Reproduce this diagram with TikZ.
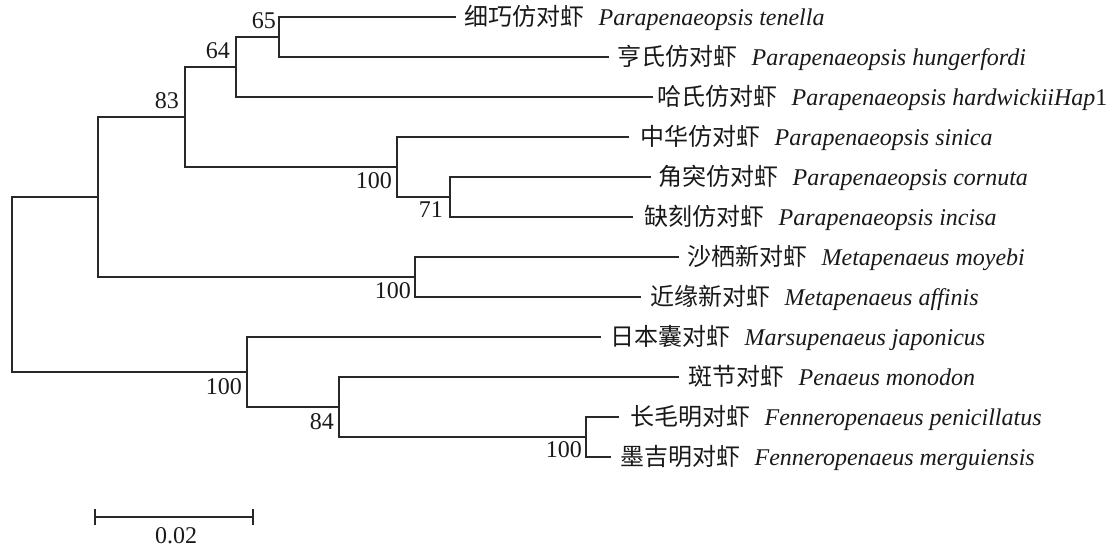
\documentclass[tikz,border=0pt]{standalone}
\usepackage{fontspec}
\setmainfont{Liberation Serif}
\newfontfamily\cjkf{Noto Sans CJK SC}
\newcommand\taxtext[2]{{\cjkf #1}\hspace{0.6em}\textit{#2}}
\begin{document}
\begin{tikzpicture}[x=1pt,y=-1pt,
  br/.style={draw={rgb,255:red,40;green,40;blue,40},line width=1.3pt,line cap=rect},
  taxon/.style={anchor=base west,inner sep=0pt,yshift=-8.5pt,font=\fontsize{24}{28}\selectfont,text={rgb,255:red,25;green,25;blue,25}},
  bs/.style={anchor=east,inner sep=0pt,font=\fontsize{24}{28}\selectfont,text={rgb,255:red,25;green,25;blue,25}}]
\useasboundingbox (0,0) rectangle (1111,548);
% tips
\coordinate (t1) at (455,17);
\coordinate (t2) at (608,57);
\coordinate (t3) at (652,97);
\coordinate (t4) at (628,137);
\coordinate (t5) at (650,177);
\coordinate (t6) at (632,217);
\coordinate (t7) at (678,257);
\coordinate (t8) at (640,297);
\coordinate (t9) at (600,337);
\coordinate (t10) at (678,377);
\coordinate (t11) at (618,417);
\coordinate (t12) at (610,457);
% internal nodes
\coordinate (n65) at (279,37);
\coordinate (n64) at (236,67);
\coordinate (n83) at (185,117);
\coordinate (n100a) at (397,167);
\coordinate (n71) at (450,197);
\coordinate (nup) at (98,197);
\coordinate (nmeta) at (415,277);
\coordinate (root) at (12,284.5);
\coordinate (nlow) at (247,372);
\coordinate (n84) at (339,407);
\coordinate (nfen) at (586,437);
% branches
\draw[br] (n65) |- (t1);
\draw[br] (n65) |- (t2);
\draw[br] (n64) |- (n65);
\draw[br] (n64) |- (t3);
\draw[br] (n83) |- (n64);
\draw[br] (n83) |- (n100a);
\draw[br] (n100a) |- (t4);
\draw[br] (n100a) |- (n71);
\draw[br] (n71) |- (t5);
\draw[br] (n71) |- (t6);
\draw[br] (nup) |- (n83);
\draw[br] (nup) |- (nmeta);
\draw[br] (nmeta) |- (t7);
\draw[br] (nmeta) |- (t8);
\draw[br] (root) |- (nup);
\draw[br] (root) |- (nlow);
\draw[br] (nlow) |- (t9);
\draw[br] (nlow) |- (n84);
\draw[br] (n84) |- (t10);
\draw[br] (n84) |- (nfen);
\draw[br] (nfen) |- (t11);
\draw[br] (nfen) |- (t12);
% taxon labels
\node[taxon] (l1) at ([xshift=9pt]t1) {\taxtext{细巧仿对虾}{Parapenaeopsis tenella}};
\node[taxon] (l2) at ([xshift=9pt]t2) {\taxtext{亨氏仿对虾}{Parapenaeopsis hungerfordi}};
\node[taxon] (l3) at ([xshift=5pt]t3) {\taxtext{哈氏仿对虾}{Parapenaeopsis hardwickiiHap}1};
\node[taxon] (l4) at ([xshift=12pt]t4) {\taxtext{中华仿对虾}{Parapenaeopsis sinica}};
\node[taxon] (l5) at ([xshift=8pt]t5) {\taxtext{角突仿对虾}{Parapenaeopsis cornuta}};
\node[taxon] (l6) at ([xshift=12pt]t6) {\taxtext{缺刻仿对虾}{Parapenaeopsis incisa}};
\node[taxon] (l7) at ([xshift=9pt]t7) {\taxtext{沙栖新对虾}{Metapenaeus moyebi}};
\node[taxon] (l8) at ([xshift=10pt]t8) {\taxtext{近缘新对虾}{Metapenaeus affinis}};
\node[taxon] (l9) at ([xshift=10pt]t9) {\taxtext{日本囊对虾}{Marsupenaeus japonicus}};
\node[taxon] (l10) at ([xshift=10pt]t10) {\taxtext{斑节对虾}{Penaeus monodon}};
\node[taxon] (l11) at ([xshift=12pt]t11) {\taxtext{长毛明对虾}{Fenneropenaeus penicillatus}};
\node[taxon] (l12) at ([xshift=10pt]t12) {\taxtext{墨吉明对虾}{Fenneropenaeus merguiensis}};
% bootstrap values
\node[bs] (b65) at ([shift={(-3,-16)}]n65) {65};
\node[bs] (b64) at ([shift={(-6,-16)}]n64) {64};
\node[bs] (b83) at ([shift={(-6,-16)}]n83) {83};
\node[bs] (b100a) at ([shift={(-5,14)}]n100a) {100};
\node[bs] (b71) at ([shift={(-7,13)}]n71) {71};
\node[bs] (bmeta) at ([shift={(-4,14)}]nmeta) {100};
\node[bs] (blow) at ([shift={(-5,15)}]nlow) {100};
\node[bs] (b84) at ([shift={(-5,15)}]n84) {84};
\node[bs] (bfen) at ([shift={(-4,13)}]nfen) {100};
% scale bar
\coordinate (sb1) at (95,517);
\coordinate (sb2) at (253,517);
\draw[br] (sb1) -- (sb2);
\draw[br] ([yshift=7pt]sb1) -- ([yshift=-7pt]sb1);
\draw[br] ([yshift=7pt]sb2) -- ([yshift=-7pt]sb2);
\node[bs,anchor=center] (sbl) at (176,536) {0.02};
\end{tikzpicture}
\end{document}
